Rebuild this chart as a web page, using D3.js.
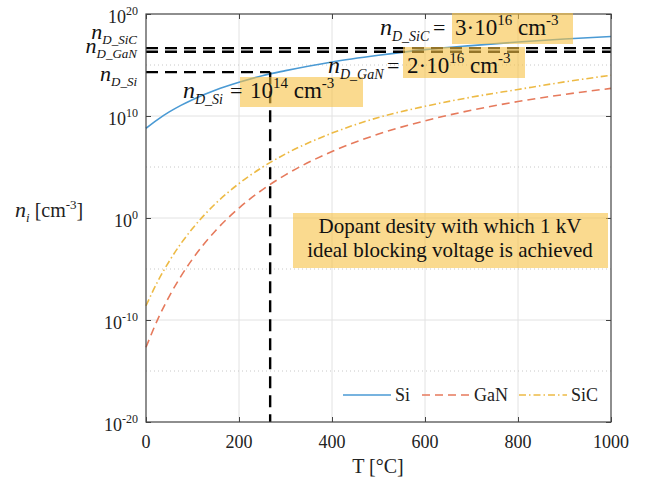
<!DOCTYPE html>
<html>
<head>
<meta charset="utf-8">
<script src="https://cdn.jsdelivr.net/npm/d3@7"></script>
<style>
  svg text, svg tspan { font-family: "Liberation Serif", "Times New Roman", Tinos !important; }
</style>
</head>
<body style="margin:0">
<svg id="chart" width="660" height="482"></svg>
<script>
// temperature grid [°C] and intrinsic carrier density [cm^-3]
const temps = [0, 25, 50, 75, 100, 150, 200, 250, 300, 400, 500, 600, 700, 800, 900, 1000];
const niSi  = [6.3e8, 4.5e9, 2.5e10, 1.1e11, 4e11, 3.5e12, 2e13, 9e13, 2.8e14, 2e15, 9e15, 3.2e16, 8e16, 1.8e17, 3.5e17, 6.3e17];
const niGaN = [2.1e-13, 1.1e-10, 2.1e-8, 1.9e-6, 9.5e-5, 6e-2, 9.5, 5.8e2, 1.7e4, 3.3e6, 1.7e8, 3.4e9, 3.7e10, 2.6e11, 1.3e12, 5.1e12];
const niSiC = [2.5e-9, 5.8e-7, 5.8e-5, 3.1e-3, 9.3e-2, 27, 2.4e3, 9.3e4, 1.9e6, 2.1e8, 7.2e9, 8.9e10, 7.1e11, 4e12, 2.2e13, 1e14];
const materials = ['Si', 'GaN', 'SiC'];

// dopant densities (horizontal dashed lines) and the Si crossing temperature
const nDSiC = 4.5e16;
const nDGaN = 2e16;
const nDSi = 2e14;
const tCross = 267;

const xTicks = [0, 200, 400, 600, 800, 1000];
const yTicks = [1e-20, 1e-10, 1e0, 1e10, 1e20];
const yMinor = [1e-15, 1e-5, 1e5, 1e15];

const W = 660, H = 482;
const margin = {top: 14, right: 49, bottom: 60, left: 146};
const plotW = W - margin.left - margin.right;
const plotH = H - margin.top - margin.bottom;

const svg = d3.select('#chart');
const g = svg.append('g')
  .attr('transform', `translate(${margin.left},${margin.top})`);

// every text gets the serif face directly
const addText = (parent) => parent.append('text')
  .style('font-family', () => '"Liberation Serif"');

const xScale = d3.scaleLinear().domain([0, 1000]).range([0, plotW]);
const yScale = d3.scaleLog().domain([1e-20, 1e20]).range([plotH, 0]);

// grid
g.selectAll('.vgrid').data(xTicks.slice(1, -1)).enter().append('line')
  .attr('x1', d => xScale(d)).attr('x2', d => xScale(d))
  .attr('y1', 0).attr('y2', plotH)
  .attr('stroke', '#e2e2e2').attr('stroke-width', 1);
g.selectAll('.hgrid').data(yTicks.slice(1, -1)).enter().append('line')
  .attr('x1', 0).attr('x2', plotW)
  .attr('y1', d => yScale(d)).attr('y2', d => yScale(d))
  .attr('stroke', '#e2e2e2').attr('stroke-width', 1);
g.selectAll('.mgrid').data(yMinor).enter().append('line')
  .attr('x1', 0).attr('x2', plotW)
  .attr('y1', d => yScale(d)).attr('y2', d => yScale(d))
  .attr('stroke', '#c8c8c8').attr('stroke-width', 1)
  .attr('stroke-dasharray', '1,3');

// curves
const series = [
  {name: 'Si', values: niSi, color: '#4a9ad4', dash: null},
  {name: 'GaN', values: niGaN, color: '#e67a5c', dash: '8,5'},
  {name: 'SiC', values: niSiC, color: '#edba45', dash: '7,3,1.5,3'}
];

const line = d3.line()
  .x(d => xScale(d[0]))
  .y(d => yScale(d[1]))
  .curve(d3.curveMonotoneX);

g.selectAll('.curve').data(series).enter().append('path')
  .attr('class', 'curve')
  .attr('d', s => line(temps.map((t, i) => [t, s.values[i]])))
  .attr('fill', 'none')
  .attr('stroke', s => s.color)
  .attr('stroke-width', 1.6)
  .attr('stroke-dasharray', s => s.dash);

// dopant density lines
const dopLines = [
  {x1: 0, x2: 1000, y1: nDSiC, y2: nDSiC},
  {x1: 0, x2: 1000, y1: nDGaN, y2: nDGaN},
  {x1: 0, x2: tCross, y1: nDSi, y2: nDSi},
  {x1: tCross, x2: tCross, y1: nDSi, y2: 1e-20}
];
g.selectAll('.dop').data(dopLines).enter().append('line')
  .attr('x1', d => xScale(d.x1)).attr('x2', d => xScale(d.x2))
  .attr('y1', d => yScale(d.y1)).attr('y2', d => yScale(d.y2))
  .attr('stroke', '#000').attr('stroke-width', 2.4)
  .attr('stroke-dasharray', '12,7');

// axes (ticks inside, box all round), labels added separately
const styleAxis = sel => {
  sel.attr('font-family', null).attr('font-size', null);
  sel.selectAll('.domain').remove();
  sel.selectAll('.tick text').remove();
  sel.selectAll('.tick line').attr('stroke', '#444');
};
g.append('g').call(d3.axisLeft(yScale).tickValues(yTicks).tickSize(-5)).call(styleAxis);
g.append('g').attr('transform', `translate(${plotW},0)`)
  .call(d3.axisRight(yScale).tickValues(yTicks).tickSize(-5)).call(styleAxis);
g.append('g').attr('transform', `translate(0,${plotH})`)
  .call(d3.axisBottom(xScale).tickValues(xTicks).tickSize(-5)).call(styleAxis);
g.append('g')
  .call(d3.axisTop(xScale).tickValues(xTicks).tickSize(-5)).call(styleAxis);

g.append('rect')
  .attr('width', plotW).attr('height', plotH)
  .attr('fill', 'none').attr('stroke', '#444').attr('stroke-width', 1.2);

// tick labels
xTicks.forEach(v => {
  addText(g).attr('x', xScale(v)).attr('y', plotH + 26)
    .attr('text-anchor', 'middle')
    .style('font-size', '18px').attr('fill', '#222')
    .text(v);
});
yTicks.forEach(v => {
  const t = addText(g).attr('x', -8).attr('y', yScale(v) + 9)
    .attr('text-anchor', 'end')
    .style('font-size', '18px').attr('fill', '#222');
  t.append('tspan').text('10');
  t.append('tspan').attr('dy', -8).style('font-size', '12px')
    .text(Math.round(Math.log10(v)));
});

// rich text helper: parts = [text, size, italic, baseline shift]
function rich(sel, parts) {
  let cur = 0;
  sel.attr('xml:space', 'preserve');
  parts.forEach(([t, size, italic, shift]) => {
    sel.append('tspan')
      .attr('dy', shift - cur)
      .style('font-size', size + 'px')
      .style('font-style', italic ? 'italic' : 'normal')
      .text(t);
    cur = shift;
  });
  return sel;
}

// axis titles
addText(svg).attr('x', 378).attr('y', 473)
  .attr('text-anchor', 'middle').style('font-size', '20px').attr('fill', '#222')
  .text('T [°C]');
rich(addText(svg).attr('x', 15).attr('y', 217).attr('fill', '#222'), [
  ['n', 22, true, 0], ['i', 13, true, 5], [' [cm', 20, false, 0], ['-3', 13, false, -8], [']', 20, false, 0]
]);

// left labels for the dopant lines
[['D_SiC', 39], ['D_GaN', 53], ['D_Si', 81]].forEach(([sub, yy]) => {
  rich(addText(svg).attr('x', 137).attr('y', yy).attr('text-anchor', 'end').attr('fill', '#111'), [
    ['n', 22, true, 0], [sub, 13, true, 5]
  ]);
});

// highlighted annotations: boxes first, then the text on top
const hl = '#f6c244';
const notes = [
  {x: 183, eq: 230, v: 250, y: 98, sub: 'D_Si', val: '10', exp: '14', box: [240, 77, 123, 30]},
  {x: 380, eq: 433, v: 455, y: 35, sub: 'D_SiC', val: '3·10', exp: '16', box: [452, 13, 121, 31]},
  {x: 328, eq: 387, v: 407, y: 73, sub: 'D_GaN', val: '2·10', exp: '16', box: [403, 47, 122, 31]}
];
const boxes = notes.map(nt => nt.box).concat([[293, 213, 315, 55]]);
svg.selectAll('.hl').data(boxes).enter().append('rect')
  .attr('x', b => b[0]).attr('y', b => b[1])
  .attr('width', b => b[2]).attr('height', b => b[3])
  .attr('fill', hl).attr('fill-opacity', 0.6);

notes.forEach(nt => {
  rich(addText(svg).attr('x', nt.x).attr('y', nt.y).attr('fill', '#111'), [
    ['n', 24, true, 0], [nt.sub, 14, true, 6]
  ]);
  addText(svg).attr('x', nt.eq).attr('y', nt.y)
    .style('font-size', '22px').attr('fill', '#111').text('=');
  rich(addText(svg).attr('x', nt.v).attr('y', nt.y).attr('fill', '#111'), [
    [nt.val, 23, false, 0], [nt.exp, 15, false, -10], [' cm', 23, false, 0], ['-3', 15, false, -10]
  ]);
});

['Dopant desity with which 1 kV', 'ideal blocking voltage is achieved'].forEach((d, i) => {
  addText(svg).attr('x', 450).attr('y', 233 + i * 24)
    .attr('text-anchor', 'middle').style('font-size', '21px').attr('fill', '#111')
    .text(d);
});

// legend
const legendWidths = [17, 35, 30];
const legend = g.append('g').attr('transform', `translate(197,381)`);
let lx = 0;
series.forEach((s, i) => {
  const it = legend.append('g').attr('transform', `translate(${lx},0)`);
  it.append('line').attr('x1', 0).attr('x2', 48).attr('y1', 0).attr('y2', 0)
    .attr('stroke', s.color).attr('stroke-width', 1.6)
    .attr('stroke-dasharray', s.dash);
  addText(it).attr('x', 52).attr('y', 6)
    .style('font-size', '18px').attr('fill', '#222')
    .text(s.name);
  lx += 52 + legendWidths[i] + 10;
});
</script>
</body>
</html>
